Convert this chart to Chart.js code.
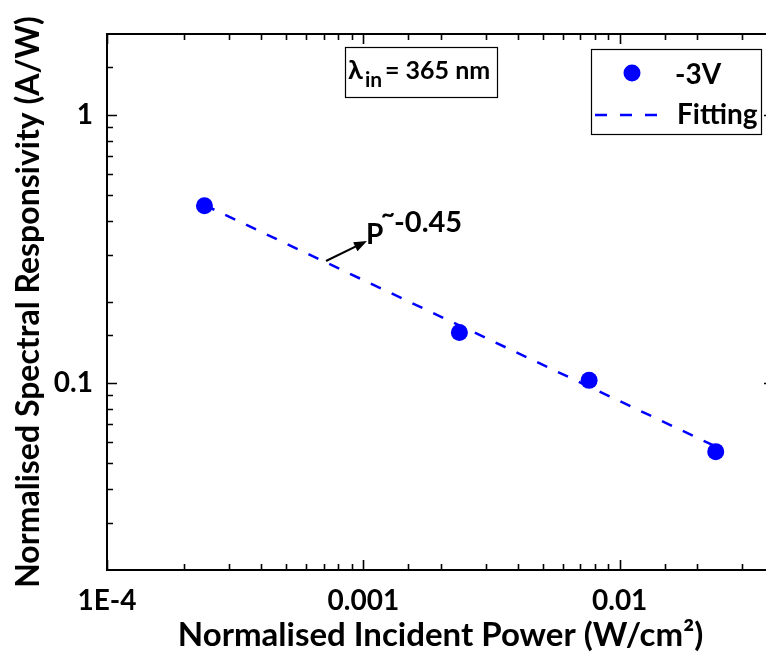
<!DOCTYPE html>
<html>
<head>
<meta charset="utf-8">
<script src="https://cdn.jsdelivr.net/npm/chart.js@4.4.1/dist/chart.umd.min.js"></script>
<style>
html,body{margin:0;padding:0;background:#fff;overflow:hidden;}
#wrap{width:790px;height:657px;}
</style>
</head>
<body>
<div id="wrap"><canvas id="c" width="790" height="657"></canvas></div>
<script>
// ---- data ----
const powerValues = [2.4e-4, 2.37e-3, 7.6e-3, 2.37e-2];        // W/cm^2
const responsivityValues = [0.457, 0.154, 0.102, 0.0553];       // A/W (-3V)
const fitPower = [2.4e-4, 2.37e-2];
const fitResponsivity = [0.46, 0.0578];
const xTickValues = [1e-4, 1e-3, 1e-2];
const xTickLabels = ['1E-4', '0.001', '0.01'];
const yTickValues = [0.1, 1];
const yTickLabels = ['0.1', '1'];
const seriesName = '-3V';
const fitName = 'Fitting';

const FONT = "Lato, 'DejaVu Sans', sans-serif";
const BLUE = '#0000ff';

function labelFor(values, labels, v) {
  for (let i = 0; i < values.length; i++) {
    if (Math.abs(v - values[i]) / values[i] < 1e-6) return labels[i];
  }
  return '';
}
function isPow10(v) {
  const l = Math.log10(v);
  return Math.abs(l - Math.round(l)) < 1e-6;
}

const framePlugin = {
  id: 'frame',
  beforeDatasetsDraw(chart) {
    const ctx = chart.ctx, a = chart.chartArea;
    const xs = chart.scales.x, ys = chart.scales.y;
    ctx.save();
    ctx.strokeStyle = '#000';
    ctx.lineWidth = 2;
    ctx.strokeRect(a.left, a.top, a.right - a.left, a.bottom - a.top);
    ctx.lineWidth = 1.6;
    xs.ticks.forEach(t => {
      const v = t.value;
      if (v <= xs.min * 1.0001 && !isPow10(v)) return;
      if (v >= xs.max * 0.9999 && !isPow10(v)) return;
      const px = Math.round(xs.getPixelForValue(v)) + 0.5;
      const len = isPow10(v) ? 10 : 6;
      ctx.beginPath();
      ctx.moveTo(px, a.bottom); ctx.lineTo(px, a.bottom - len);
      ctx.moveTo(px, a.top); ctx.lineTo(px, a.top + len);
      ctx.stroke();
    });
    ys.ticks.forEach(t => {
      const v = t.value;
      if (v <= ys.min * 1.0001 && !isPow10(v)) return;
      if (v >= ys.max * 0.9999 && !isPow10(v)) return;
      const py = Math.round(ys.getPixelForValue(v)) + 0.5;
      const len = isPow10(v) ? 10 : 6;
      ctx.beginPath();
      ctx.moveTo(a.left, py); ctx.lineTo(a.left + len, py);
      ctx.moveTo(a.right, py); ctx.lineTo(a.right - len, py);
      ctx.stroke();
    });
    ctx.restore();
  },
  afterDraw(chart) {
    const ctx = chart.ctx;
    ctx.save();
    ctx.fillStyle = '#000';
    ctx.strokeStyle = '#000';
    // wavelength box
    ctx.lineWidth = 1.2;
    ctx.strokeRect(345.5, 47.5, 152, 50);
    ctx.textBaseline = 'alphabetic';
    ctx.textAlign = 'left';
    ctx.font = 'bold 27px ' + FONT;
    ctx.fillText('λ', 348, 79);
    ctx.font = 'bold 21px ' + FONT;
    ctx.fillText('in', 365, 87);
    ctx.font = 'bold 25px ' + FONT;
    ctx.fillText('= 365 nm', 385, 79);

    // legend
    ctx.lineWidth = 1.2;
    ctx.strokeRect(591.5, 49.5, 170, 85);
    ctx.fillStyle = BLUE;
    ctx.beginPath(); ctx.arc(632, 73, 8.5, 0, Math.PI * 2); ctx.fill();
    ctx.strokeStyle = BLUE;
    ctx.lineWidth = 2.5;
    ctx.setLineDash([12, 13]);
    ctx.beginPath(); ctx.moveTo(595, 115); ctx.lineTo(660, 115); ctx.stroke();
    ctx.setLineDash([]);
    ctx.fillStyle = '#000';
    ctx.font = 'bold 28px ' + FONT;
    ctx.fillText(seriesName, 675, 84);
    ctx.fillText(fitName, 677, 124);

    // power-law annotation with arrow
    ctx.strokeStyle = '#000';
    ctx.lineWidth = 2;
    const x0 = 326, y0 = 261, x1 = 367, y1 = 241;
    const ang = Math.atan2(y1 - y0, x1 - x0);
    ctx.beginPath(); ctx.moveTo(x0, y0);
    ctx.lineTo(x1 - 10 * Math.cos(ang), y1 - 10 * Math.sin(ang)); ctx.stroke();
    ctx.beginPath();
    ctx.moveTo(x1, y1);
    ctx.lineTo(x1 - 13 * Math.cos(ang) + 5 * Math.sin(ang), y1 - 13 * Math.sin(ang) - 5 * Math.cos(ang));
    ctx.lineTo(x1 - 13 * Math.cos(ang) - 5 * Math.sin(ang), y1 - 13 * Math.sin(ang) + 5 * Math.cos(ang));
    ctx.closePath(); ctx.fill();
    ctx.font = 'bold 28px ' + FONT;
    ctx.fillText('P', 366, 244);
    ctx.font = 'bold 24px ' + FONT;
    ctx.fillText('~', 381, 223);
    ctx.font = 'bold 29px ' + FONT;
    ctx.fillText('-0.45', 394, 232);
    ctx.restore();
  }
};

const pointData = powerValues.map((x, i) => ({x: x, y: responsivityValues[i]}));
const fitData = fitPower.map((x, i) => ({x: x, y: fitResponsivity[i]}));

new Chart(document.getElementById('c'), {
  type: 'scatter',
  data: {
    datasets: [
      {label: seriesName, data: pointData, pointRadius: 8.5, pointHoverRadius: 8.5,
       backgroundColor: BLUE, borderWidth: 0, showLine: false, order: 0},
      {label: fitName, data: fitData, showLine: true, pointRadius: 0, borderColor: BLUE,
       borderWidth: 2.5, borderDash: [11, 12], fill: false, order: 1}
    ]
  },
  options: {
    responsive: false,
    animation: false,
    devicePixelRatio: 1,
    layout: {padding: {top: 34, right: 16, left: 0, bottom: 0}},
    plugins: {legend: {display: false}, tooltip: {enabled: false}},
    scales: {
      x: {
        type: 'logarithmic', min: 1e-4, max: 0.04,
        grid: {display: false, drawTicks: false}, border: {display: false},
        ticks: {autoSkip: false, maxRotation: 0, minRotation: 0, padding: 14, color: '#000',
                font: {family: FONT, size: 28, weight: 'bold'},
                callback: (v) => labelFor(xTickValues, xTickLabels, v)},
        title: {display: true, text: 'Normalised Incident Power (W/cm²)', color: '#000',
                font: {family: FONT, size: 33, weight: 'bold'}, padding: {top: 0, bottom: 2}},
        afterFit: (s) => { s.height = 87; }
      },
      y: {
        type: 'logarithmic', min: 0.02, max: 2,
        grid: {display: false, drawTicks: false}, border: {display: false},
        ticks: {autoSkip: false, padding: 14, color: '#000',
                font: {family: FONT, size: 28, weight: 'bold'},
                callback: (v) => labelFor(yTickValues, yTickLabels, v)},
        title: {display: true, text: 'Normalised Spectral Responsivity (A/W)', color: '#000',
                font: {family: FONT, size: 32, weight: 'bold'}, padding: {top: 9, bottom: 0}},
        afterFit: (s) => { s.width = 107; }
      }
    }
  },
  plugins: [framePlugin]
});
</script>
</body>
</html>
